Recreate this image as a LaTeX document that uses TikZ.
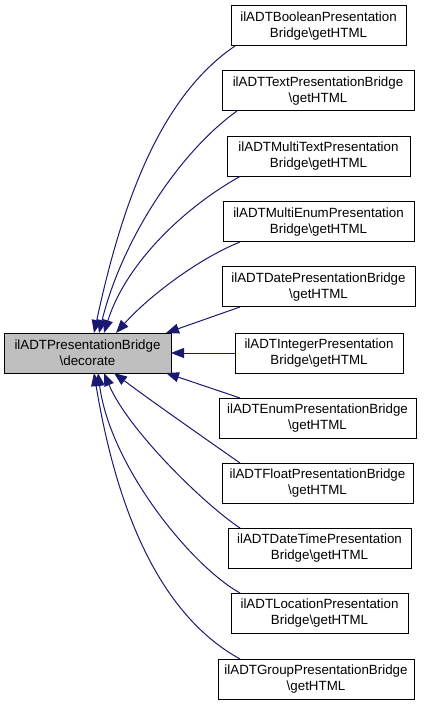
\documentclass[tikz,border=0pt]{standalone}
\usepackage{fontspec}
\setmainfont{Liberation Sans}
\usetikzlibrary{arrows.meta,calc}
\definecolor{edgeblue}{HTML}{191970}
\definecolor{boxgray}{HTML}{BFBFBF}
\tikzset{
  box/.style={draw=black, line width=0.75pt, fill=white, inner sep=0pt, outer sep=0pt,
    minimum height=30pt, align=center, font=\fontsize{10pt}{12pt}\selectfont},
  mainbox/.style={box, fill=boxgray},
  edge/.style={draw=edgeblue, line width=0.75pt, -{Triangle[length=9.75pt,width=7.5pt]}}
}
\begin{document}
\begin{tikzpicture}[x=0.75pt,y=-0.75pt]
\useasboundingbox (0,0) rectangle (424,705);
\node[mainbox, minimum width=125.25pt] (a) at (87.5,353) {ilADTPresentationBridge\\\textbackslash decorate};
\node[box, minimum width=131.25pt] (b1) at (318.5,26) {ilADTBooleanPresentation\\Bridge\textbackslash getHTML};
\node[box, minimum width=144pt] (b2) at (318,91) {ilADTTextPresentationBridge\\\textbackslash getHTML};
\node[box, minimum width=137.25pt] (b3) at (318.5,156.5) {ilADTMultiTextPresentation\\Bridge\textbackslash getHTML};
\node[box, minimum width=143.25pt] (b4) at (318.5,222) {ilADTMultiEnumPresentation\\Bridge\textbackslash getHTML};
\node[box, minimum width=144.75pt] (b5) at (318.5,287) {ilADTDatePresentationBridge\\\textbackslash getHTML};
\node[box, minimum width=126pt] (b6) at (319,353) {ilADTIntegerPresentation\\Bridge\textbackslash getHTML};
\node[box, minimum width=147.75pt] (b7) at (317.5,418) {ilADTEnumPresentationBridge\\\textbackslash getHTML};
\node[box, minimum width=143.25pt] (b8) at (317.5,483) {ilADTFloatPresentationBridge\\\textbackslash getHTML};
\node[box, minimum width=137.25pt] (b9) at (319.5,548) {ilADTDateTimePresentation\\Bridge\textbackslash getHTML};
\node[box, minimum width=132.75pt] (b10) at (319.5,613) {ilADTLocationPresentation\\Bridge\textbackslash getHTML};
\node[box, minimum width=147pt] (b11) at (316,679) {ilADTGroupPresentationBridge\\\textbackslash getHTML};

\draw[edge] ($(b1.south west)+(4,0)$) .. controls (160,97) and (122,203) .. ($(a.north west)+(90,0)$);
\draw[edge] ($(b2.south west)+(15,0)$) .. controls (177,154) and (121,243) .. ($(a.north west)+(95,0)$);
\draw[edge] ($(b3.south west)+(13,0)$) .. controls (185,207) and (126,263) .. ($(a.north west)+(100,0)$);
\draw[edge] ($(b4.south west)+(17,0)$) .. controls (200,258) and (150,295) .. ($(a.north west)+(112,0)$);
\draw[edge] ($(b5.south west)+(18,0)$) -- ($(a.north west)+(162,0)$);
\draw[edge] (b6.west) -- (a.east);
\draw[edge] ($(b7.north west)+(21,0)$) -- ($(a.south west)+(162,0)$);
\draw[edge] ($(b8.north west)+(18,0)$) .. controls (200,435) and (150,400) .. ($(a.south west)+(110,0)$);
\draw[edge] ($(b9.north west)+(12,0)$) .. controls (205,505) and (128,430) .. ($(a.south west)+(100,0)$);
\draw[edge] ($(b10.north west)+(9,0)$) .. controls (190,565) and (110,465) .. ($(a.south west)+(94,0)$);
\draw[edge] ($(b11.north west)+(22,0)$) .. controls (155,612) and (115,500) .. ($(a.south west)+(90,0)$);
\end{tikzpicture}
\end{document}
